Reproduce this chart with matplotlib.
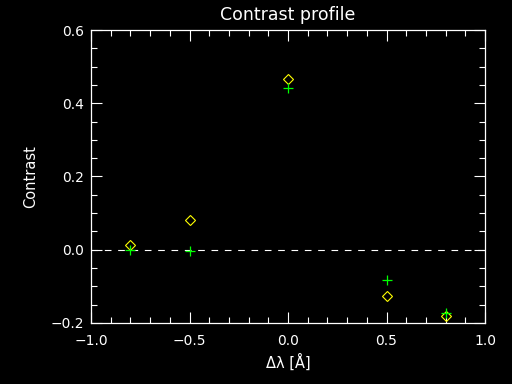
import matplotlib
matplotlib.use('Agg')
import matplotlib.pyplot as plt
from matplotlib.ticker import MultipleLocator

# data
dlam = [-0.8, -0.5, 0.0, 0.5, 0.8]
contrast_diamond = [0.013, 0.082, 0.467, -0.125, -0.181]
contrast_plus = [0.0, -0.004, 0.443, -0.082, -0.173]

fig = plt.figure(figsize=(5.12, 3.84), dpi=100, facecolor='black')
ax = fig.add_axes([91/512, 1 - 323/384, (485-91)/512, (323-30)/384])
ax.set_facecolor('black')

# zero line
ax.axhline(0.0, color='white', lw=0.8, ls=(0, (6, 6)))

ax.plot(dlam, contrast_diamond, ls='none', marker='D', ms=5.5, mfc='none',
        mec='#ffff00', mew=0.8)
ax.plot(dlam, contrast_plus, ls='none', marker='+', ms=7.5, color='#00ff00', mew=0.9)

ax.set_xlim(-1.0, 1.0)
ax.set_ylim(-0.2, 0.6)
ax.xaxis.set_major_locator(MultipleLocator(0.5))
ax.xaxis.set_minor_locator(MultipleLocator(0.1))
ax.yaxis.set_major_locator(MultipleLocator(0.2))
ax.yaxis.set_minor_locator(MultipleLocator(0.05))
ax.xaxis.set_major_formatter(plt.FuncFormatter(lambda v, p: f'{v:.1f}'.replace('-', '\u2212')))
ax.yaxis.set_major_formatter(plt.FuncFormatter(lambda v, p: f'{v:.1f}'.replace('-', '\u2212')))

for s in ax.spines.values():
    s.set_color('white')
    s.set_linewidth(0.9)
ax.tick_params(which='both', direction='in', top=True, right=True, colors='white',
               labelsize=10, width=0.8)
ax.tick_params(which='major', length=8)
ax.tick_params(which='minor', length=4)
ax.tick_params(axis='x', pad=8)
ax.tick_params(axis='y', pad=5)

ax.set_title('Contrast profile', color='white', fontsize=12.5, pad=7)
ax.set_xlabel('\u0394\u03bb [\u00c5]', color='white', fontsize=10.5, labelpad=4)
ax.set_ylabel('Contrast', color='white', fontsize=10.5, labelpad=9)

fig.savefig('out.png', dpi=100, facecolor='black')
